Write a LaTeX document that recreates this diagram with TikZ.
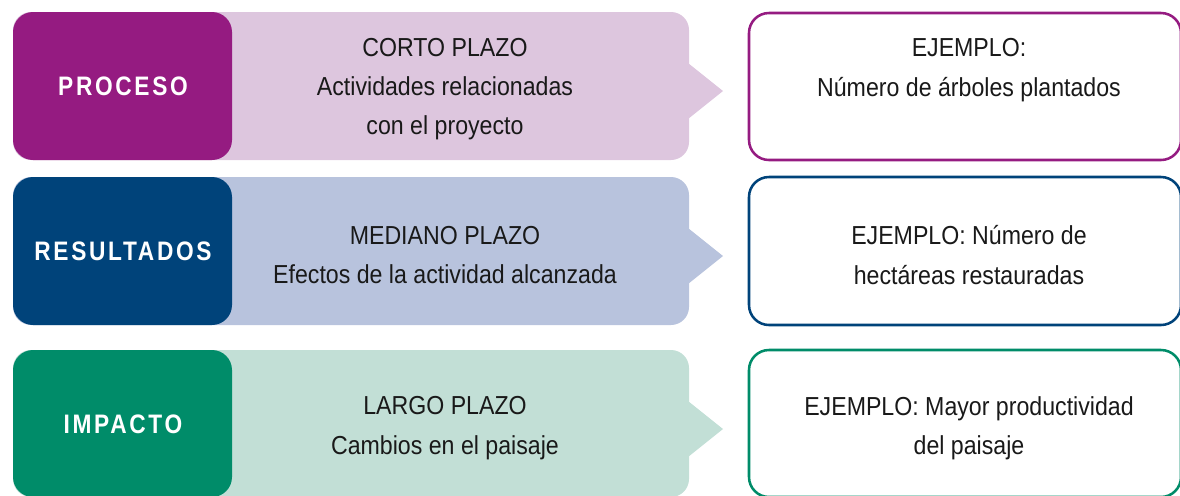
\documentclass[tikz,border=0pt]{standalone}
\usepackage{fontspec}
\setmainfont[FakeStretch=0.89]{Liberation Sans}
\newfontfamily\tagfont[FakeStretch=0.85,LetterSpace=10]{Liberation Sans}
\usetikzlibrary{positioning}
\usepackage{xcolor}

\definecolor{procDark}{HTML}{951B81}
\definecolor{procLight}{HTML}{DDC6DE}
\definecolor{resDark}{HTML}{00437A}
\definecolor{resLight}{HTML}{B8C3DD}
\definecolor{impDark}{HTML}{008C69}
\definecolor{impLight}{HTML}{C2DFD6}

\begin{document}
\begin{tikzpicture}[line cap=round,line join=round,x=0.025cm,y=-0.025cm,
  every node/.style={font=\fontsize{18.5}{28}\selectfont, align=center, text=black!90},
  tag/.style={font=\tagfont\bfseries\fontsize{19}{24}\selectfont, text=white},
  band/.style={rounded corners=0.45cm},
  head/.style={rounded corners=0.5cm},
  example/.style={line width=1.8pt, rounded corners=0.5cm, fill=white}]
\useasboundingbox (0,0) rectangle (1180,495);

% Proceso
\fill [band, procLight] (13,12) rectangle (689,160);
\fill [procLight] (688,63) -- (723,91) -- (688,119) -- cycle;
\fill [head, procDark] (13,12) rectangle (232,160);
\draw [example, draw=procDark] (749,13) rectangle (1181,160);
\node [tag] (proceso) at (123,86) {PROCESO};
\node (corto) at (445,89) {CORTO PLAZO\\Actividades relacionadas\\con el proyecto};
\node (ejproceso) at (969,70) {EJEMPLO:\\Número de árboles plantados};

% Resultados
\fill [band, resLight] (13,177) rectangle (689,325);
\fill [resLight] (688,228) -- (723,256) -- (688,284) -- cycle;
\fill [head, resDark] (13,177) rectangle (232,325);
\draw [example, draw=resDark] (749,177) rectangle (1181,325);
\node [tag] (resultados) at (123,251) {RESULTADOS};
\node (mediano) at (445,255) {MEDIANO PLAZO\\Efectos de la actividad alcanzada};
\node (ejresultados) at (969,255) {EJEMPLO: Número de\\hectáreas restauradas};

% Impacto
\fill [band, impLight] (13,350) rectangle (689,497);
\fill [impLight] (688,401) -- (723,429) -- (688,457) -- cycle;
\fill [head, impDark] (13,350) rectangle (232,497);
\draw [example, draw=impDark] (749,350) rectangle (1181,497);
\node [tag] (impacto) at (123,424) {IMPACTO};
\node (largo) at (445,428) {LARGO PLAZO\\Cambios en el paisaje};
\node (ejimpacto) at (969,428) {EJEMPLO: Mayor productividad\\del paisaje};
\end{tikzpicture}
\end{document}
